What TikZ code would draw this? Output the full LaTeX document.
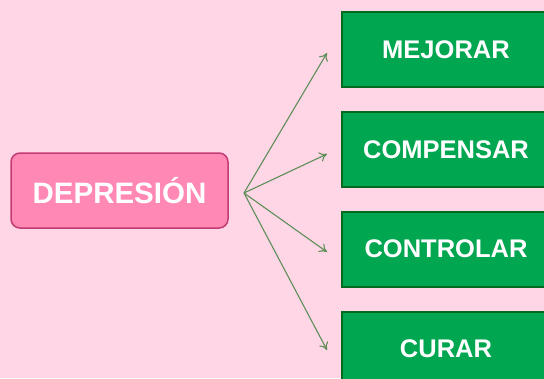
\documentclass[tikz,border=0pt]{standalone}
\usepackage{fontspec}
\setmainfont{Liberation Sans}
\usetikzlibrary{arrows.meta}
\definecolor{bgpink}{HTML}{FFD6E6}
\definecolor{boxpink}{HTML}{FF88B4}
\definecolor{borderpink}{HTML}{C43A72}
\definecolor{boxgreen}{HTML}{00A650}
\definecolor{bordergreen}{HTML}{006A1E}
\definecolor{arrowgreen}{HTML}{5E8E58}
\begin{document}
\begin{tikzpicture}[x=1pt,y=-1pt,
  mainbox/.style={draw=borderpink, fill=boxpink, line width=1.5pt, rounded corners=9pt,
    minimum width=217pt, minimum height=75pt, inner sep=0pt,
    text=white, font=\bfseries\fontsize{29.5}{31}\selectfont},
  greenbox/.style={draw=bordergreen, fill=boxgreen, line width=2pt,
    minimum width=208pt, minimum height=75pt, inner sep=0pt,
    text=white, font=\bfseries\fontsize{25.5}{27}\selectfont},
  conn/.style={draw=arrowgreen, line width=1.1pt, -{To[length=7.5pt,width=10pt]}}]
\fill[bgpink] (0,0) rectangle (544,378);
\useasboundingbox (0,0) rectangle (544,378);
\node[mainbox] (dep) at (119.5,190.5) {DEPRESIÓN};
\node[greenbox] (b1) at (446,49.5) {MEJORAR};
\node[greenbox] (b2) at (446,149.5) {COMPENSAR};
\node[greenbox] (b3) at (446,249) {CONTROLAR};
\node[greenbox] (b4) at (446,349) {CURAR};
\coordinate (hub) at (244,193);
\coordinate (e1) at (327,53);
\coordinate (e2) at (327,154);
\coordinate (e3) at (327,252);
\coordinate (e4) at (327,350);
\draw[conn] (hub) -- (e1);
\draw[conn] (hub) -- (e2);
\draw[conn] (hub) -- (e3);
\draw[conn] (hub) -- (e4);
\end{tikzpicture}
\end{document}
